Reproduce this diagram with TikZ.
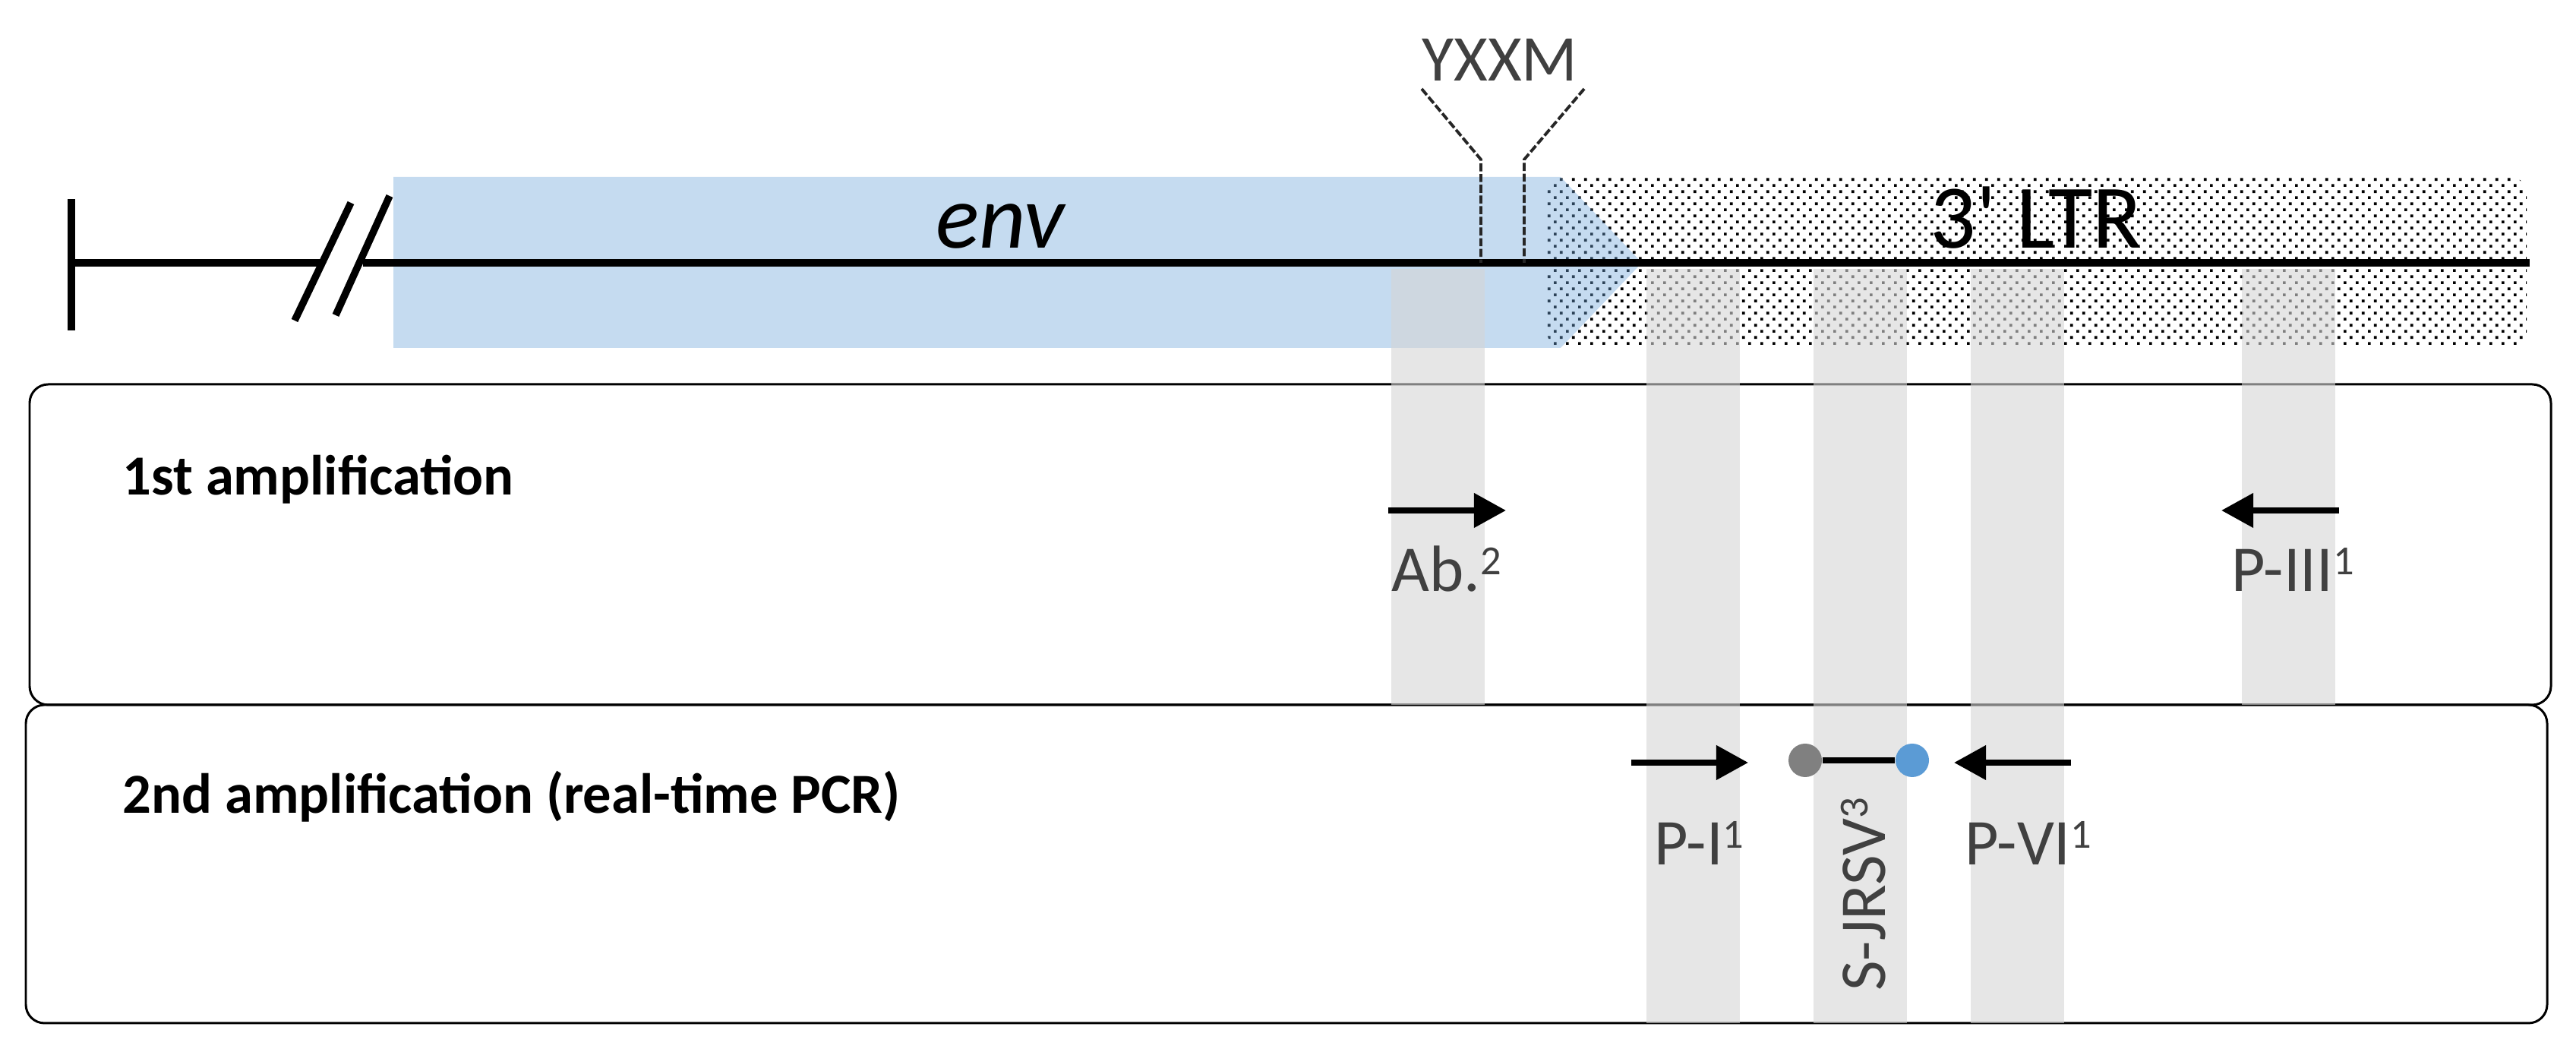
\documentclass[tikz,border=0pt]{standalone}
\usepackage{fontspec}
\setmainfont{Carlito}
\usetikzlibrary{arrows.meta, patterns}
\definecolor{cblue}{HTML}{6EA5DA}
\definecolor{cprobe}{HTML}{5B9BD5}
\definecolor{cgrey}{HTML}{808080}
\definecolor{ctext}{HTML}{404040}
\definecolor{ccol}{HTML}{D5D5D5}
\pgfdeclarepatternformonly{ltrdots}{\pgfqpoint{0pt}{0pt}}{\pgfqpoint{4.55pt}{4.55pt}}{\pgfqpoint{4.55pt}{4.55pt}}{%
  \pgfpathrectangle{\pgfqpoint{0pt}{0pt}}{\pgfqpoint{1.05pt}{1.05pt}}%
  \pgfpathrectangle{\pgfqpoint{2.275pt}{2.275pt}}{\pgfqpoint{1.05pt}{1.05pt}}%
  \pgfusepath{fill}}
\newcommand\supnum[1]{\raisebox{0.26em}{\fontsize{15.5}{16}\selectfont #1}}
\tikzset{
  genome/.style={line width=2.7pt, draw=black},
  motif/.style={line width=1.1pt, dash pattern=on 3pt off 1pt, draw=black!85},
  panel/.style={draw=black, line width=0.85pt, rounded corners=7pt},
  column/.style={fill=ccol, fill opacity=0.6},
  primer/.style={-{Triangle[length=12pt, width=12.5pt]}, line width=2.3pt},
  dot/.style={circle, fill=#1, minimum size=0.44cm, inner sep=0pt},
  label/.style={font=\fontsize{24.5}{29}\selectfont, text=ctext, inner sep=0pt, anchor=base west},
  title/.style={font=\fontsize{21.2}{25}\selectfont\bfseries, inner sep=0pt, anchor=base west},
  region/.style={font=\fontsize{34}{40}\selectfont, inner sep=0pt, anchor=base},
}

\begin{document}
\begin{tikzpicture}
  \useasboundingbox (0,0) rectangle (33.92,13.81);
  % 3' LTR background
  \fill[pattern=ltrdots, rounded corners=6pt] (20.37,9.23) rectangle (33.27,11.48);
  % env gene
  \fill[cblue, fill opacity=0.4] (5.18,9.23) -- (20.55,9.23) -- (21.62,10.35) -- (20.55,11.48) -- (5.18,11.48) -- cycle;
  % genome line with break
  \draw[genome] (0.94,9.46) -- (0.94,11.19);
  \draw[genome] (0.94,10.35) -- (4.26,10.35);
  \draw[genome] (4.78,10.35) -- (33.31,10.35);
  \draw[genome] (3.88,9.59) -- (4.62,11.14) (4.42,9.66) -- (5.13,11.23);
  % YXXM motif
  \node[label, anchor=base] (yxxm) at (19.75,12.74) {YXXM};
  \draw[motif] (18.72,12.64) -- (19.50,11.71) -- (19.50,10.35);
  \draw[motif] (20.86,12.64) -- (20.07,11.71) -- (20.07,10.35);
  \node[region, font=\fontsize{34}{40}\selectfont\itshape] (env) at (13.17,10.54) {env};
  \node[region] (ltr) at (26.81,10.54) {3\textquotesingle\ LTR};
  % panels
  \draw[panel] (0.39,4.53) rectangle (33.59,8.75);
  \draw[panel] (0.34,0.34) rectangle (33.54,4.53);
  \node[title] (first) at (1.61,7.29) {1st amplification};
  \node[title] (second) at (1.61,3.10) {2nd amplification (real-time PCR)};
  % primer positions
  \foreach \x/\b in {18.32/4.53, 21.68/0.34, 23.88/0.34, 25.95/0.34, 29.52/4.53}
    \fill[column] (\x,\b) rectangle (\x+1.23,10.27);
  % primers
  \draw[primer] (18.28,7.09) -- (19.83,7.09);
  \draw[primer] (30.80,7.09) -- (29.25,7.09);
  \draw[primer] (21.48,3.77) -- (23.02,3.77);
  \draw[primer] (27.27,3.77) -- (25.73,3.77);
  % probe
  \node[dot=cgrey] (quencher) at (23.77,3.80) {};
  \node[dot=cprobe] (reporter) at (25.18,3.80) {};
  \draw[line width=2.3pt] (quencher) -- (reporter);
  % labels
  \node[label] (ab) at (18.32,6.02) {Ab.\supnum{2}};
  \node[label] (p3) at (29.38,6.02) {P-III\supnum{1}};
  \node[label] (p1) at (21.78,2.42) {P-I\supnum{1}};
  \node[label] (p6) at (25.87,2.42) {P-VI\supnum{1}};
  \node[label, rotate=90] (sjrsv) at (24.82,0.76) {S-JRSV\supnum{3}};
\end{tikzpicture}
\end{document}
